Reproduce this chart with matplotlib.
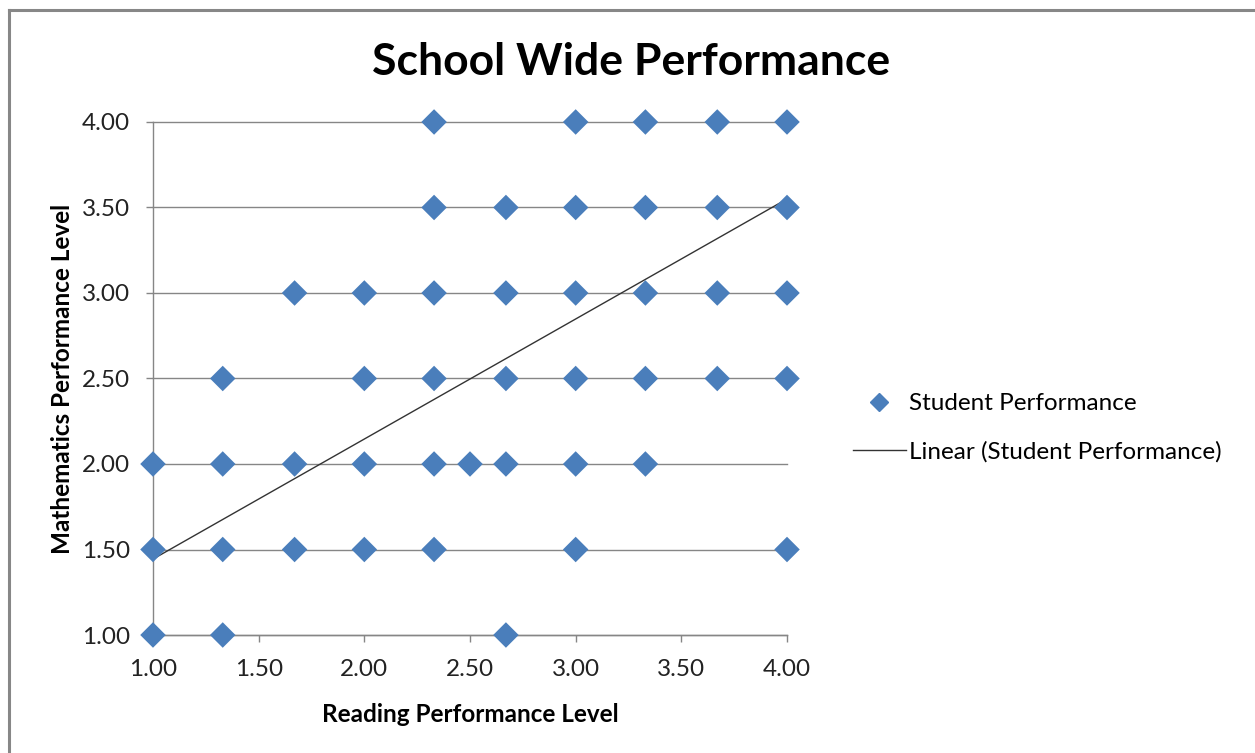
import matplotlib
matplotlib.use("Agg")
import matplotlib.pyplot as plt
from matplotlib.lines import Line2D
import numpy as np

plt.rcParams['font.family'] = ['Lato', 'DejaVu Sans']

# Student scores: reading level (x) and mathematics level (y)
reading = [2.33, 3.00, 3.33, 3.67, 4.00,
           2.33, 2.67, 3.00, 3.33, 3.67, 4.00,
           1.67, 2.00, 2.33, 2.67, 3.00, 3.33, 3.67, 4.00,
           1.33, 2.00, 2.33, 2.67, 3.00, 3.33, 3.67, 4.00,
           1.00, 1.33, 1.67, 2.00, 2.33, 2.50, 2.67, 3.00, 3.33,
           1.00, 1.33, 1.67, 2.00, 2.33, 3.00, 4.00,
           1.00, 1.33, 2.67]
math = [4.0] * 5 + [3.5] * 6 + [3.0] * 8 + [2.5] * 8 + [2.0] * 9 + [1.5] * 7 + [1.0] * 3

# Linear trend (slope, intercept)
trend_slope = 0.702
trend_intercept = 0.742

x_ticks = [1.00, 1.50, 2.00, 2.50, 3.00, 3.50, 4.00]
y_ticks = [1.00, 1.50, 2.00, 2.50, 3.00, 3.50, 4.00]

blue = '#4A7EBB'
grid_gray = '#868686'

fig = plt.figure(figsize=(12.55, 7.53), dpi=100)
ax = fig.add_axes([0.1219, 0.1567, 0.5052, 0.6813])

ax.set_xlim(1.0, 4.0)
ax.set_ylim(1.0, 4.0)

# horizontal gridlines
for yv in y_ticks:
    ax.plot([1.0, 4.0], [yv, yv], color=grid_gray, lw=1.0, zorder=1, clip_on=False)

tx = np.array([1.0, 4.0])
ax.plot(tx, trend_slope * tx + trend_intercept, color='#333333', lw=1.0, zorder=3, clip_on=False)

ax.scatter(reading, math, marker='D', s=13 ** 2, color=blue, edgecolors='none',
           zorder=4, clip_on=False)

for side in ['top', 'right']:
    ax.spines[side].set_visible(False)
for side in ['left', 'bottom']:
    ax.spines[side].set_color(grid_gray)
    ax.spines[side].set_linewidth(1.0)

ax.set_xticks(x_ticks)
ax.set_yticks(y_ticks)
ax.set_xticklabels([f"{v:.2f}" for v in x_ticks])
ax.set_yticklabels([f"{v:.2f}" for v in y_ticks])
ax.tick_params(axis='both', direction='out', length=5, width=1, color=grid_gray,
               labelsize=17.5, labelcolor='#222222')
ax.tick_params(axis='y', pad=11.5)
ax.tick_params(axis='x', pad=12.5)

ax.set_xlabel('Reading Performance Level', fontsize=17.5, fontweight='bold', labelpad=16)
ax.set_ylabel('Mathematics Performance Level', fontsize=17.5, fontweight='bold', labelpad=6)

fig.text(0.503, 0.918, 'School Wide Performance', fontsize=32, fontweight='bold',
         ha='center', va='center')

handles = [
    Line2D([], [], marker='D', color=blue, linestyle='none', markersize=9),
    Line2D([], [], color='#333333', lw=1.0),
]
fig.legend(handles, ['Student Performance', 'Linear (Student Performance)'],
           loc='center left', bbox_to_anchor=(0.662, 0.432), frameon=False,
           fontsize=17.5, handlelength=2.2, handletextpad=0.1, labelspacing=1.1)

# outer chart border (left and top edges)
fig.add_artist(Line2D([0.0072, 0.0072], [0.0, 0.9867], transform=fig.transFigure,
                      color='#878787', lw=2.2))
fig.add_artist(Line2D([0.0072, 1.0], [0.9867, 0.9867], transform=fig.transFigure,
                      color='#878787', lw=2.2))

fig.savefig('out.png', dpi=100, facecolor='white')
